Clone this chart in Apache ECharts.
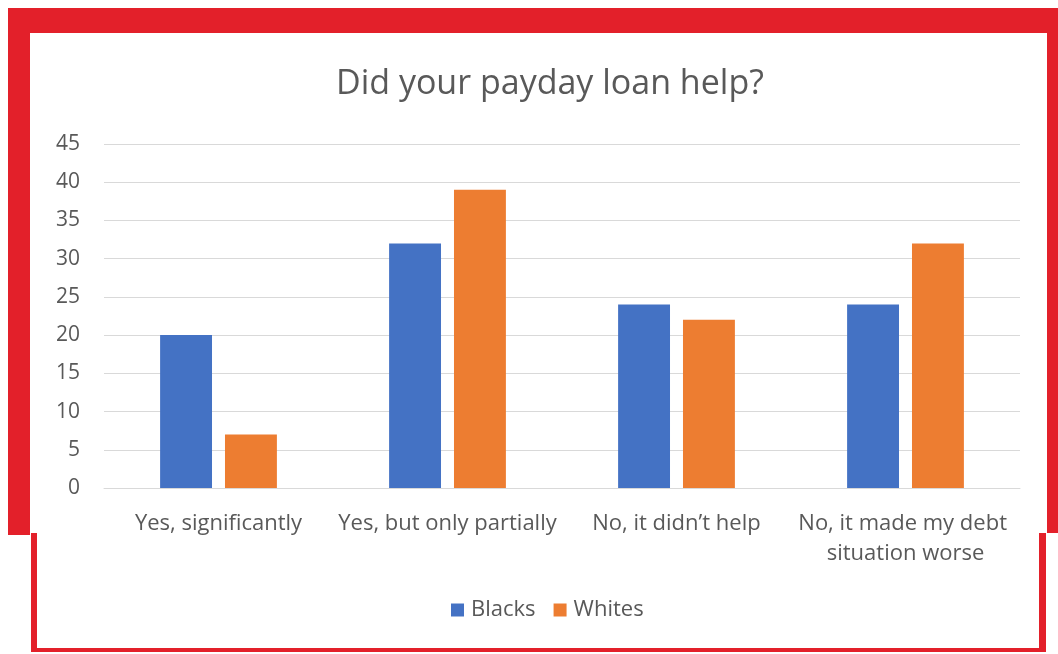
<!DOCTYPE html>
<html>
<head>
<meta charset="utf-8">
<script src="https://cdn.jsdelivr.net/npm/echarts@6/dist/echarts.min.js"></script>
<style>
  html, body { margin: 0; padding: 0; background: #ffffff; }
  #chart { width: 1058px; height: 654px; }
</style>
</head>
<body>
<div id="chart"></div>
<script>
// Survey answers, percent of respondents
const categories = ['Yes, significantly', 'Yes, but only partially', 'No, it didn\u2019t help', 'No, it made my debt situation worse'];
const blacks = [20, 32, 24, 24];
const whites = [7, 39, 22, 32];
const seriesNames = ['Blacks', 'Whites'];

const FONT = '"Open Sans", "Noto Sans", sans-serif';
const TEXT = '#595959';
const RED = '#e3202a';

const chart = echarts.init(document.getElementById('chart'), null, { renderer: 'canvas' });

chart.setOption({
  backgroundColor: '#ffffff',
  animation: false,
  title: {
    text: 'Did your payday loan help?',
    left: 331,
    top: 62,
    textStyle: { fontFamily: FONT, fontSize: 34, fontWeight: 'normal', color: TEXT }
  },
  legend: {
    data: seriesNames,
    top: 594,
    left: 446,
    icon: 'rect',
    itemWidth: 13,
    itemHeight: 13,
    itemGap: 18,
    textStyle: { fontFamily: FONT, fontSize: 22, color: TEXT, padding: [0, 0, 0, 2] }
  },
  grid: { left: 104, right: 38, top: 144, bottom: 166 },
  xAxis: {
    type: 'category',
    data: categories,
    axisLine: { show: true, lineStyle: { color: '#d9d9d9' } },
    axisTick: { show: false },
    axisLabel: {
      fontFamily: FONT, fontSize: 22, color: TEXT, margin: 21,
      lineHeight: 30, width: 226, overflow: 'break', interval: 0
    }
  },
  yAxis: {
    type: 'value',
    min: 0, max: 45, interval: 5,
    axisLine: { show: false },
    axisTick: { show: false },
    axisLabel: { fontFamily: FONT, fontSize: 21, color: TEXT, margin: 24 },
    splitLine: { lineStyle: { color: '#d9d9d9', width: 1 } }
  },
  series: [
    { name: seriesNames[0], type: 'bar', data: blacks, barGap: '25%', barCategoryGap: '49%',
      itemStyle: { color: '#4472c4' } },
    { name: seriesNames[1], type: 'bar', data: whites, barGap: '25%', barCategoryGap: '49%',
      itemStyle: { color: '#ed7d31' } }
  ],
  graphic: [
    // red frame: thick upper band, thin lower outline
    { type: 'rect', shape: { x: 8, y: 8, width: 1050, height: 25 }, style: { fill: RED }, silent: true },
    { type: 'rect', shape: { x: 8, y: 8, width: 22, height: 527 }, style: { fill: RED }, silent: true },
    { type: 'rect', shape: { x: 1047, y: 8, width: 11, height: 525 }, style: { fill: RED }, silent: true },
    { type: 'rect', shape: { x: 31, y: 533, width: 6, height: 119 }, style: { fill: RED }, silent: true },
    { type: 'rect', shape: { x: 1039, y: 533, width: 7, height: 119 }, style: { fill: RED }, silent: true },
    { type: 'rect', shape: { x: 31, y: 648, width: 1015, height: 4 }, style: { fill: RED }, silent: true }
  ]
});
</script>
</body>
</html>
